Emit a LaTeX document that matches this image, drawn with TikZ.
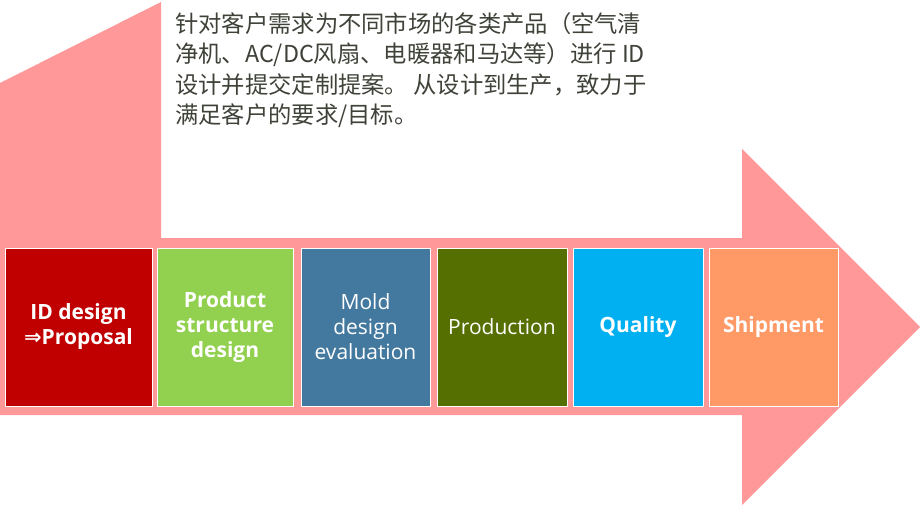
\documentclass[tikz,border=0pt]{standalone}
\usepackage{fontspec}
\setmainfont{Open Sans}
\newfontfamily\cjk{Noto Sans CJK SC}
\newfontfamily\symfont{DejaVu Sans}
\definecolor{arrowpink}{HTML}{FF9999}
\definecolor{idred}{HTML}{C00000}
\definecolor{structgreen}{HTML}{92D050}
\definecolor{moldblue}{HTML}{44799F}
\definecolor{prodolive}{HTML}{557000}
\definecolor{qualcyan}{HTML}{00B0F0}
\definecolor{shiporange}{HTML}{FF9966}
\definecolor{introgray}{HTML}{3E4238}

\tikzset{
  stage/.style={draw=white, line width=0.8pt, minimum height=158, inner sep=0pt,
    text=white, align=center, font=\fontsize{21}{25}\selectfont},
}

\begin{document}
\begin{tikzpicture}[x=1pt, y=-1pt]
      \useasboundingbox (0,0) rectangle (920,505);

      % big arrow behind the stages
      \fill[arrowpink] (0,83) -- (161,2) -- (161,238) -- (742,238) -- (742,149) -- (920,327)
        -- (742,505) -- (742,415) -- (0,415) -- cycle;

      \node[anchor=north west, align=left, text=introgray, inner sep=0pt,
        font=\cjk\fontsize{23.3}{30.5}\selectfont] (intro) at (175,12)
        {针对客户需求为不同市场的各类产品（空气清\\
         净机、AC/DC风扇、电暖器和马达等）进行 ID\\
         设计并提交定制提案。 从设计到生产，致力于\\
         满足客户的要求/目标。};

      \node[stage, fill=idred, minimum width=147] (s1) at (78.5,327) {\bfseries ID design\\\bfseries{\symfont\bfseries ⇒}Proposal};
      \node[stage, fill=structgreen, minimum width=136] (s2) at (225,327) {\bfseries Product\\\bfseries structure\\\bfseries design};
      \node[stage, fill=moldblue, minimum width=129] (s3) at (365.5,327) {Mold\\design\\evaluation};
      \node[stage, fill=prodolive, minimum width=130] (s4) at (502,327) {Production};
      \node[stage, fill=qualcyan, minimum width=130] (s5) at (638,327) {\bfseries Quality};
      \node[stage, fill=shiporange, minimum width=129] (s6) at (773.5,327) {\bfseries Shipment};
    \end{tikzpicture}
\end{document}
